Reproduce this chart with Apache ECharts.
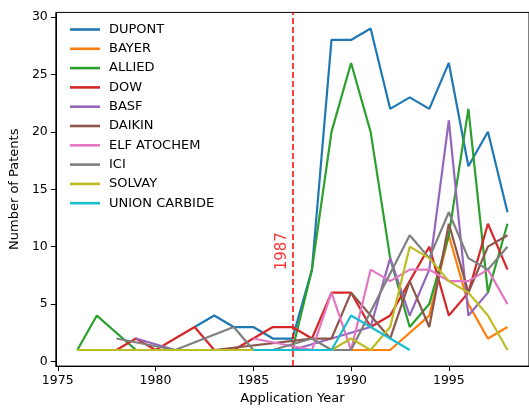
<!DOCTYPE html>
<html>
<head>
<meta charset="utf-8">
<script src="https://cdn.jsdelivr.net/npm/echarts@6/dist/echarts.min.js"></script>
<style>
  html, body { margin: 0; padding: 0; background: #fff; }
  #chart { width: 529px; height: 410px; }
</style>
</head>
<body>
<div id="chart"></div>
<script>
// patent counts per application year, [year, count]
var dupont = [[1982,3],[1983,4],[1984,3],[1985,3],[1986,2],[1987,2],[1988,8],[1989,28],[1990,28],[1991,29],[1992,22],[1993,23],[1994,22],[1995,26],[1996,17],[1997,20],[1998,13]];
var bayer = [[1990,1],[1992,1],[1994,4],[1995,11],[1996,5],[1997,2],[1998,3]];
var allied = [[1976,1],[1977,4],[1979,1],[1987,1],[1988,8],[1989,20],[1990,26],[1991,20],[1992,9],[1993,3],[1994,5],[1995,11],[1996,22],[1997,6],[1998,12]];
var dow = [[1978,1],[1979,2],[1980,1],[1982,3],[1983,1],[1984,1],[1985,2],[1986,3],[1987,3],[1988,2],[1989,6],[1990,6],[1991,3],[1992,4],[1993,7],[1994,10],[1995,4],[1996,6],[1997,12],[1998,8]];
var basf = [[1979,2],[1981,1],[1987,1],[1991,3],[1992,9],[1993,4],[1994,8],[1995,21],[1996,4],[1997,6]];
var daikin = [[1983,1],[1988,2],[1989,2],[1990,6],[1991,4],[1992,2],[1993,7],[1994,3],[1995,12],[1996,6],[1997,10],[1998,11]];
var elf = [[1985,2],[1988,1],[1989,6],[1990,1],[1991,8],[1992,7],[1993,8],[1994,8],[1995,7],[1996,7],[1997,8],[1998,5]];
var ici = [[1978,2],[1981,1],[1984,3],[1985,1],[1986,1],[1988,2],[1989,1],[1990,1],[1993,11],[1994,9],[1995,13],[1996,9],[1997,8],[1998,10]];
var solvay = [[1976,1],[1985,1],[1989,1],[1990,2],[1991,1],[1992,3],[1993,10],[1994,9],[1995,7],[1996,6],[1997,4],[1998,1]];
var unionCarbide = [[1985,1],[1989,1],[1990,4],[1993,1]];

var companies = ['DUPONT','BAYER','ALLIED','DOW','BASF','DAIKIN','ELF ATOCHEM','ICI','SOLVAY','UNION CARBIDE'];
var seriesData = [dupont, bayer, allied, dow, basf, daikin, elf, ici, solvay, unionCarbide];
var colors = ['#1f77b4','#ff7f0e','#2ca02c','#d62728','#9467bd','#8c564b','#e377c2','#7f7f7f','#bcbd22','#17becf'];

var xTicks = [1975, 1980, 1985, 1990, 1995];
var yTicks = [0, 5, 10, 15, 20, 25, 30];
var markYear = 1987;

var font = 'DejaVu Sans';
var myChart = echarts.init(document.getElementById('chart'));

var series = companies.map(function (name, i) {
  return {
    name: name,
    type: 'line',
    data: seriesData[i],
    symbol: 'none',
    lineStyle: { color: colors[i], width: 2.2 },
    itemStyle: { color: colors[i] },
    z: 2 + i
  };
});

// vertical dashed marker + rotated label
series.push({
  name: 'marker',
  type: 'scatter',
  data: [[markYear - 0.55, 9.6]],
  symbolSize: 1,
  itemStyle: { color: 'rgba(0,0,0,0)' },
  label: {
    show: true,
    formatter: String(markYear),
    rotate: 90,
    position: 'inside',
    color: '#ff0000',
    fontSize: 15,
    fontFamily: font
  },
  markLine: {
    silent: true,
    symbol: 'none',
    label: { show: false },
    lineStyle: { color: '#ff0000', type: [6, 3], width: 1.5 },
    data: [{ xAxis: markYear }]
  },
  z: 20
});

var option = {
  animation: false,
  backgroundColor: '#fff',
  color: colors,
  grid: {
    left: 53, top: 12.4, width: 479.2, height: 355.2,
    show: true, borderColor: '#000', borderWidth: 1
  },
  legend: {
    data: companies,
    orient: 'vertical',
    left: 65, top: 18,
    icon: 'rect',
    itemWidth: 30, itemHeight: 2.6,
    itemGap: 6.3,
    textStyle: { fontSize: 13, color: '#000', fontFamily: font, padding: [0, 0, 0, 4] }
  },
  xAxis: {
    type: 'value',
    min: 1974.9, max: 1999.1,
    name: 'Application Year',
    nameLocation: 'middle',
    nameGap: 25,
    nameTextStyle: { fontSize: 13, color: '#000', fontFamily: font },
    axisLine: { show: true, onZero: false, lineStyle: { color: '#000', width: 1 } },
    axisTick: { show: true, length: 5, customValues: xTicks, lineStyle: { color: '#000' } },
    axisLabel: { customValues: xTicks, color: '#000', fontSize: 12.5, fontFamily: font, margin: 8,
      formatter: function (v) { return String(v); } },
    splitLine: { show: false }
  },
  yAxis: {
    type: 'value',
    min: -0.4, max: 30.4,
    name: 'Number of Patents',
    nameLocation: 'middle',
    nameGap: 32,
    nameTextStyle: { fontSize: 13, color: '#000', fontFamily: font },
    axisLine: { show: true, onZero: false, lineStyle: { color: '#000', width: 1 } },
    axisTick: { show: true, length: 5, customValues: yTicks, lineStyle: { color: '#000' } },
    axisLabel: { customValues: yTicks, color: '#000', fontSize: 12.5, fontFamily: font, margin: 8 },
    splitLine: { show: false }
  },
  series: series
};

myChart.setOption(option);
window.addEventListener('resize', function () { myChart.resize(); });
</script>
</body>
</html>
